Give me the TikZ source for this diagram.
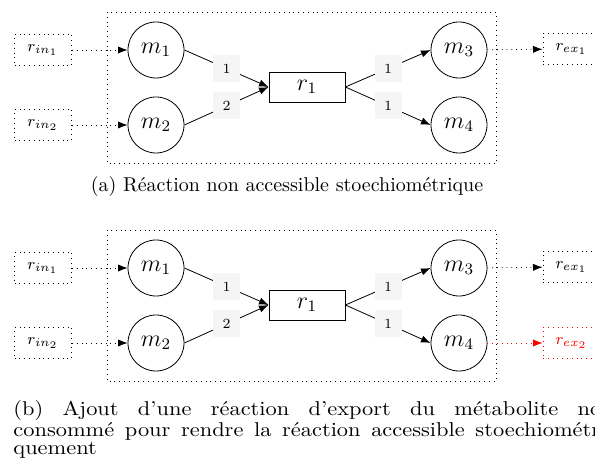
\documentclass[tikz,border=0pt]{standalone}
\usepackage{tikz}
\usetikzlibrary{positioning, arrows.meta}
\tikzset{%
	>={Latex},
	met/.style = {name = #1, circle, draw, minimum size = 28pt, inner sep = 0pt, font = \large},
	rea/.style = {name = #1, rectangle, draw, minimum width = 38pt, minimum height = 15pt, font = \large},
	ext/.style = {name = #1, rectangle, draw, dotted, minimum width = 28.5pt, minimum height = 15.5pt, inner sep = 0pt, font = \footnotesize},
	wgt/.style = {fill = gray!8, minimum size = 13.5pt, inner sep = 0pt, font = \scriptsize},
	flux/.style = {->, dotted},
	legende/.style = {font = \normalsize}
}
\begin{document}
\begin{tikzpicture}[x = 0.5pt, y = -0.5pt]
	\useasboundingbox (0,0) rectangle (595,469);
	\clip (0,0) rectangle (595,469);
	% (a)
	\draw [dotted] (107,12) rectangle (496,163);
	\node [ext = rin1a] at (43,50) {$r_{in_1}$};
	\node [ext = rin2a] at (43,125) {$r_{in_2}$};
	\node [met = m1a] at (156,50) {$m_1$};
	\node [met = m2a] at (156,125) {$m_2$};
	\node [rea = r1a] at (307,87) {$r_1$};
	\node [met = m3a] at (459,50) {$m_3$};
	\node [met = m4a] at (459,125) {$m_4$};
	\node [ext = rex1a] at (571.5,49) {$r_{ex_1}$};
	\draw [flux] (rin1a) -- (m1a);
	\draw [flux] (rin2a) -- (m2a);
	\draw [->] (m1a.east) -- node [wgt] {1} (r1a.west);
	\draw [->] (m2a.east) -- node [wgt] {2} (r1a.west);
	\draw [->] (r1a.east) -- node [wgt] {1} (m3a.west);
	\draw [->] (r1a.east) -- node [wgt] {1} (m4a.west);
	\draw [flux] (m3a) -- (rex1a);
	\node [legende] (capa) at (287,187) {(a) Réaction non accessible stoechiométrique};
	% (b)
	\draw [dotted] (107,230) rectangle (496,381);
	\node [ext = rin1b] at (43,268) {$r_{in_1}$};
	\node [ext = rin2b] at (43,343) {$r_{in_2}$};
	\node [met = m1b] at (156,268) {$m_1$};
	\node [met = m2b] at (156,343) {$m_2$};
	\node [rea = r1b] at (307,305) {$r_1$};
	\node [met = m3b] at (459,268) {$m_3$};
	\node [met = m4b] at (459,343) {$m_4$};
	\node [ext = rex1b] at (571.5,267) {$r_{ex_1}$};
	\node [ext = rex2b, red] at (571.5,343) {$r_{ex_2}$};
	\draw [flux] (rin1b) -- (m1b);
	\draw [flux] (rin2b) -- (m2b);
	\draw [->] (m1b.east) -- node [wgt] {1} (r1b.west);
	\draw [->] (m2b.east) -- node [wgt] {2} (r1b.west);
	\draw [->] (r1b.east) -- node [wgt] {1} (m3b.west);
	\draw [->] (r1b.east) -- node [wgt] {1} (m4b.west);
	\draw [flux] (m3b) -- (rex1b);
	\draw [flux, red] (m4b) -- (rex2b);
	\node [legende, anchor = north west, xscale = 1.12, transform shape, text width = 268pt, align = justify, inner sep = 0pt,
		font = \fontsize{10}{9.3}\selectfont] (capb) at (13,400)
		{(b) Ajout d'une réaction d'export du métabolite non\linebreak consommé pour rendre la réaction accessible stoechiométri-\linebreak quement};
\end{tikzpicture}
\end{document}
